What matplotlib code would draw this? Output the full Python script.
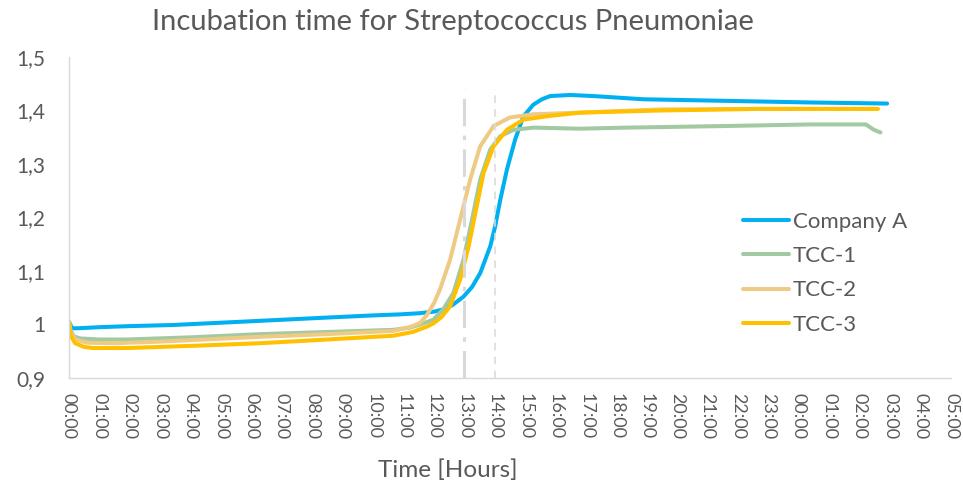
import matplotlib
matplotlib.use("Agg")
import matplotlib.pyplot as plt
from matplotlib.ticker import FuncFormatter

plt.rcParams['font.family'] = ['Lato', 'DejaVu Sans']

# hours since start
t_a = [0, 0.1, 0.3, 1.0, 2.0, 3.4, 5.6, 8.5, 10.0, 10.9, 11.5, 12.0, 12.3, 12.6, 12.97,
       13.25, 13.52, 13.85, 14.01, 14.18, 14.40, 14.67, 14.94, 15.27, 15.55, 15.82,
       16.48, 17.24, 18.88, 21.64, 24.38, 26.9]
v_a = [1.005, 0.993, 0.993, 0.995, 0.997, 0.999, 1.005, 1.013, 1.017, 1.019, 1.021,
       1.024, 1.028, 1.036, 1.052, 1.07, 1.096, 1.146, 1.183, 1.233, 1.29, 1.346, 1.389,
       1.411, 1.421, 1.427, 1.429, 1.427, 1.421, 1.418, 1.415, 1.413]

t_1 = [0, 0.05, 0.15, 0.36, 1.0, 1.9, 4.0, 6.28, 8.5, 10.66, 11.2, 11.55, 11.98, 12.3,
       12.64, 12.97, 13.25, 13.52, 13.85, 14.18, 14.62, 15.27, 16.8, 18.35, 21.6, 24.4,
       26.2, 26.46, 26.68]
v_1 = [1.005, 0.99, 0.978, 0.974, 0.972, 0.972, 0.976, 0.982, 0.986, 0.99, 0.994, 1.0,
       1.009, 1.028, 1.059, 1.121, 1.196, 1.271, 1.327, 1.352, 1.364, 1.368, 1.366, 1.368,
       1.371, 1.374, 1.374, 1.364, 1.359]

t_2 = [0, 0.05, 0.2, 0.58, 1.5, 3.0, 6.28, 8.5, 10.66, 11.2, 11.55, 11.77, 12.0, 12.2,
       12.53, 12.86, 13.19, 13.52, 13.96, 14.5, 15.27, 16.8, 19.44, 22.7, 26.57]
v_2 = [1.005, 0.985, 0.972, 0.966, 0.965, 0.968, 0.977, 0.982, 0.988, 0.995, 1.003,
       1.018, 1.04, 1.066, 1.121, 1.196, 1.271, 1.333, 1.371, 1.387, 1.393, 1.396, 1.402,
       1.403, 1.403]

t_3 = [0, 0.05, 0.2, 0.5, 0.8, 1.9, 4.0, 6.28, 8.5, 10.66, 11.3, 11.77, 11.98, 12.25,
       12.53, 12.86, 13.14, 13.36, 13.63, 13.96, 14.4, 14.94, 15.82, 16.8, 19.44, 22.7, 26.6]
v_3 = [1.005, 0.98, 0.965, 0.958, 0.956, 0.956, 0.96, 0.965, 0.972, 0.979, 0.986, 0.996,
       1.002, 1.014, 1.034, 1.084, 1.146, 1.208, 1.283, 1.333, 1.364, 1.383, 1.39, 1.396,
       1.4, 1.403, 1.403]

names = ['Company A', 'TCC-1', 'TCC-2', 'TCC-3']
colors = ['#00B0F0', '#A2C9A1', '#EECB85', '#FFC000']
hours = list(range(0, 30))
hour_labels = ['%02d:00' % (h % 24) for h in hours]
marks = [13, 14]

fig = plt.figure(figsize=(9.63, 4.88), dpi=100)
ax = fig.add_axes([69 / 963, (488 - 378) / 488, (951 - 69) / 963, (378 - 57) / 488])

for t, v, n, c in zip([t_a, t_1, t_2, t_3], [v_a, v_1, v_2, v_3], names, colors):
    ax.plot(t, v, color=c, lw=2.9, label=n, solid_capstyle='round', solid_joinstyle='round')

ax.plot([marks[0], marks[0]], [0.9, 1.44], color='#D9D9D9', lw=2.2,
        dashes=(9, 3, 1.5, 3), zorder=5)
ax.plot([marks[1], marks[1]], [0.9, 1.44], color='#D9D9D9', lw=1.1,
        dashes=(5, 4), zorder=5)

ax.set_xlim(0, 29)
ax.set_ylim(0.9, 1.5)
ax.set_xticks(hours)
ax.set_xticklabels(hour_labels, rotation=-90)
ax.set_yticks([0.9, 1.0, 1.1, 1.2, 1.3, 1.4, 1.5])
ax.yaxis.set_major_formatter(FuncFormatter(
    lambda v, p: ('%.1f' % v).replace('.0', '').replace('.', ',')))
ax.tick_params(length=0, colors='#595959')
ax.tick_params(axis='y', pad=17, labelsize=15)
ax.tick_params(axis='x', pad=11, labelsize=13)
for s in ['top', 'right']:
    ax.spines[s].set_visible(False)
for s in ['left', 'bottom']:
    ax.spines[s].set_color('#D9D9D9')
    ax.spines[s].set_linewidth(1.0)

leg = ax.legend(loc='upper left', bbox_to_anchor=(0.764, 0.517), frameon=False,
                fontsize=16, handlelength=2.07, handletextpad=0.18, labelspacing=0.64,
                borderpad=0, borderaxespad=0, labelcolor='#595959')

fig.text(453 / 963, 1 - 22 / 488, 'Incubation time for Streptococcus Pneumoniae',
         ha='center', va='center', fontsize=21, color='#595959')
fig.text(448 / 963, 1 - 470 / 488, 'Time [Hours]', ha='center', va='center',
         fontsize=17.5, color='#595959')

fig.savefig('out.png', dpi=100)
